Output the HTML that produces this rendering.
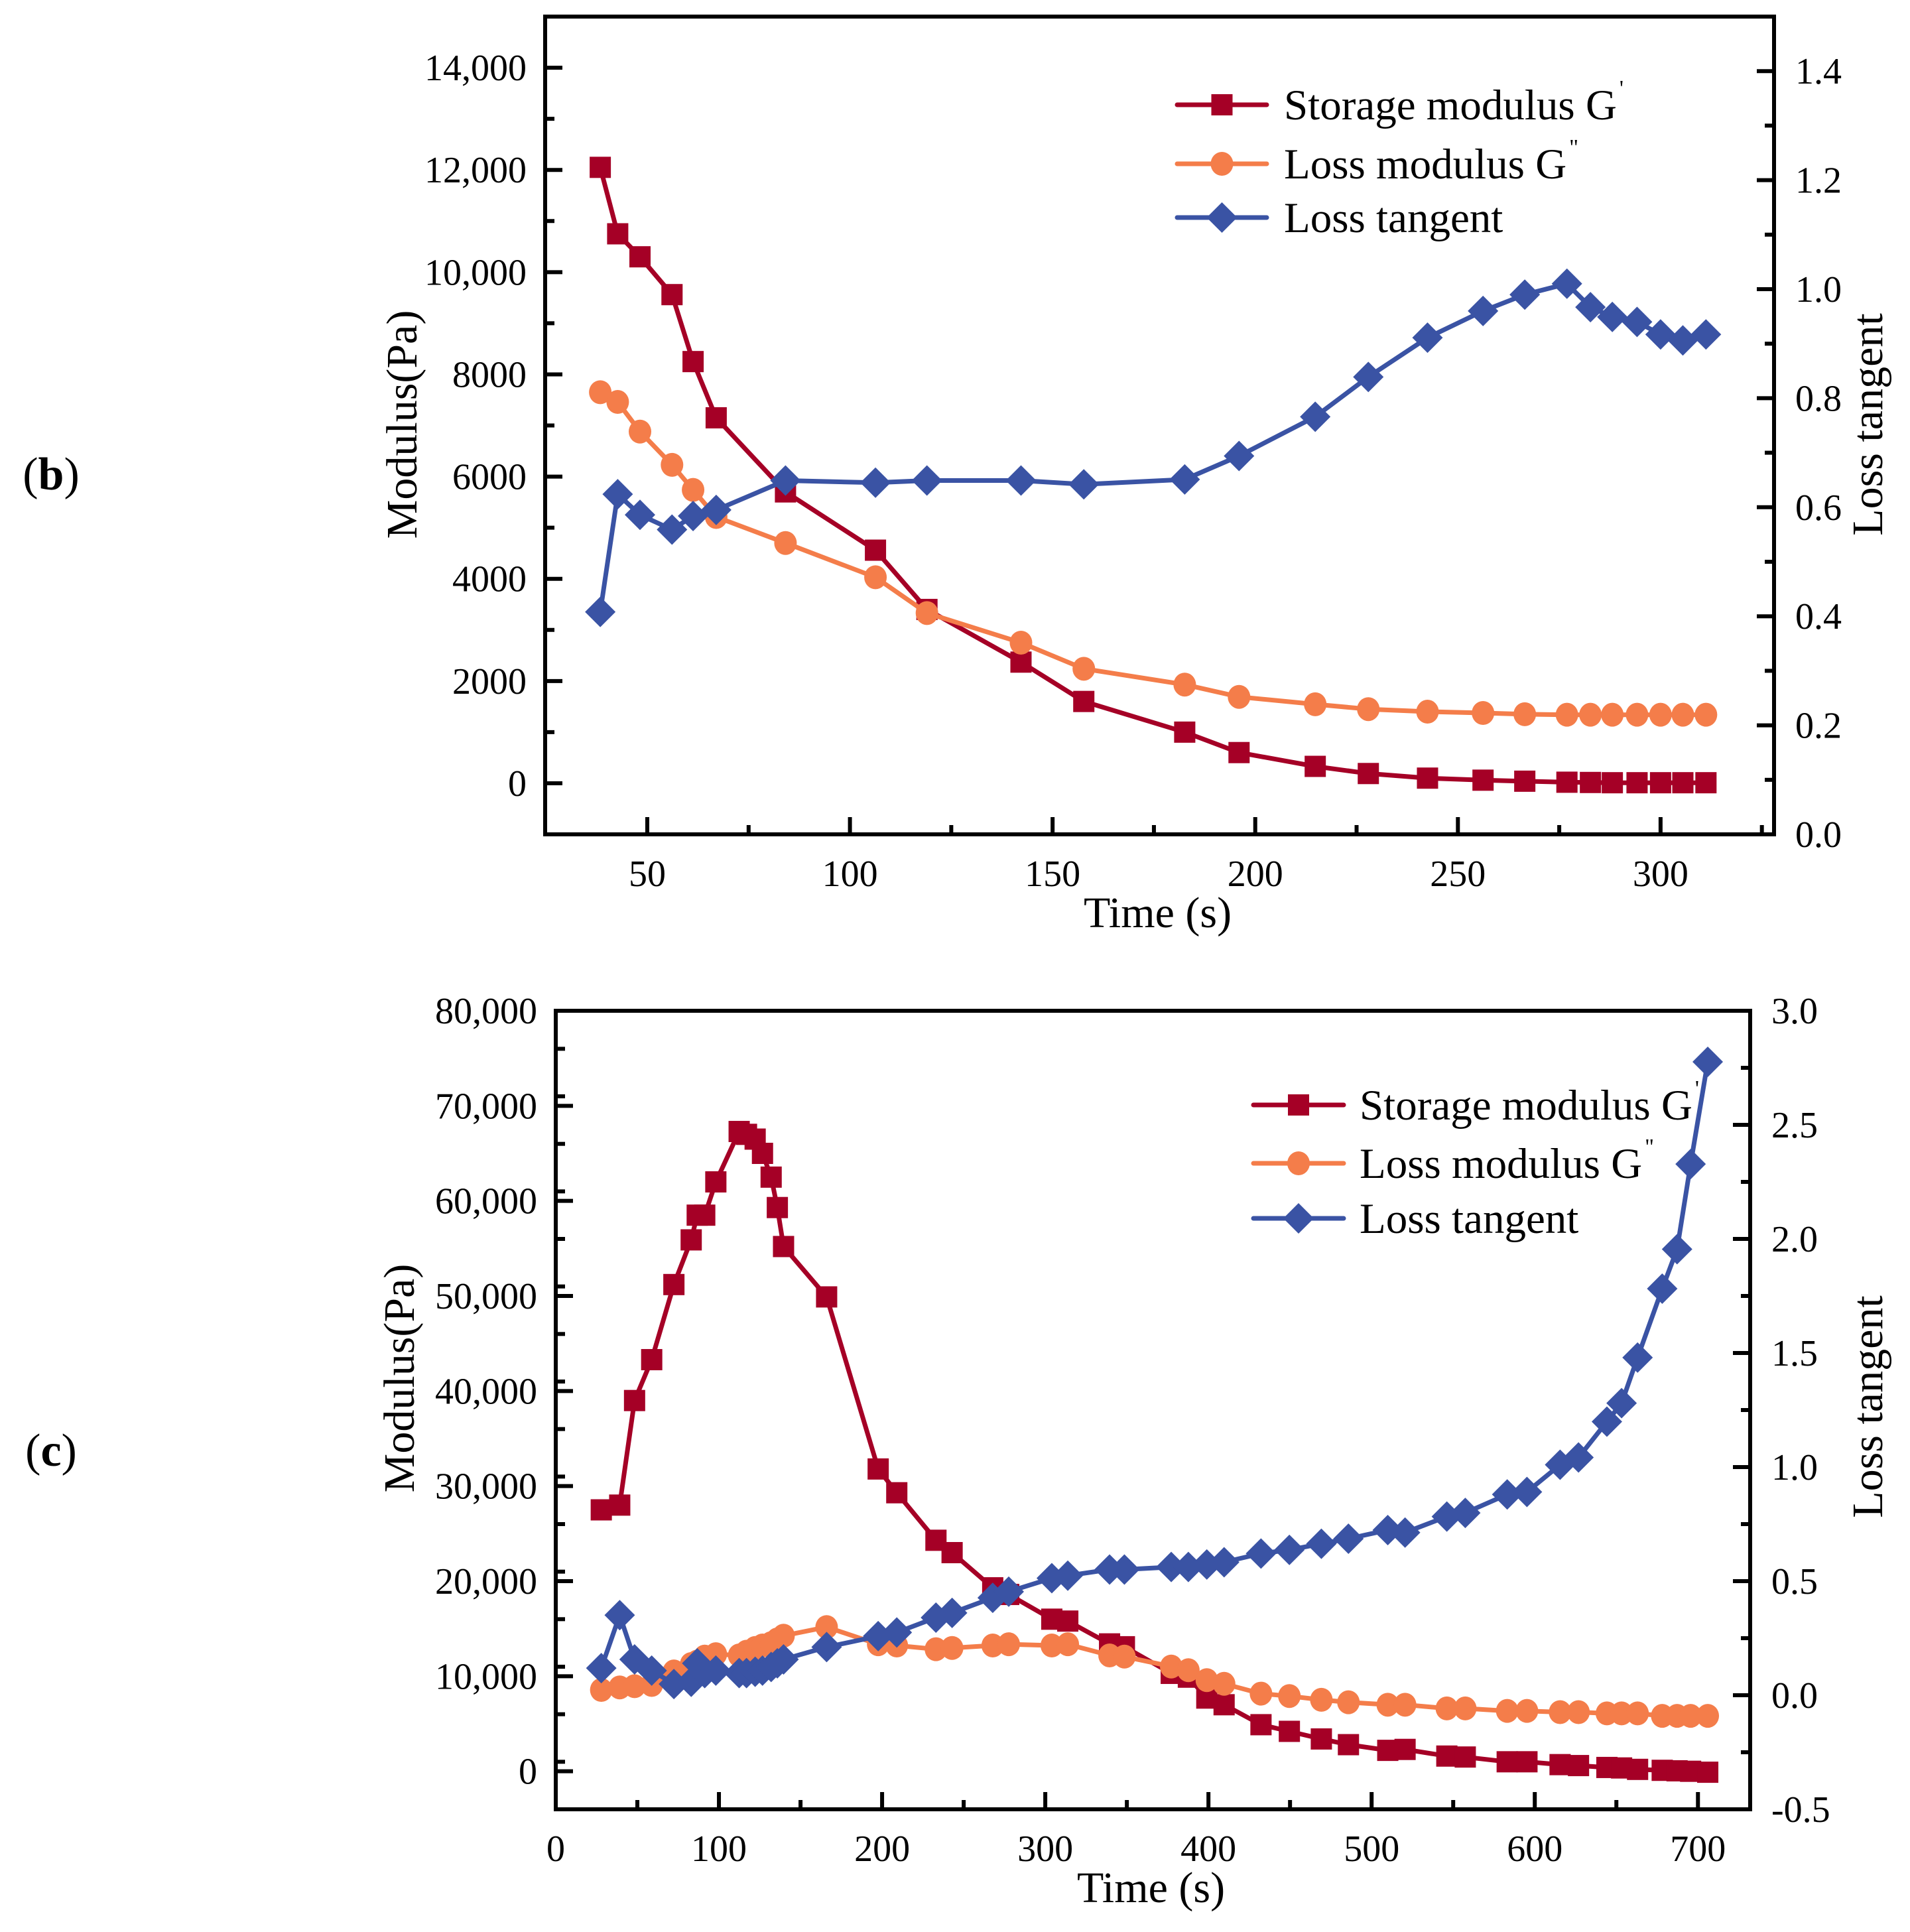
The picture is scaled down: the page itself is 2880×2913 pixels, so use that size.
<!DOCTYPE html>
<html><head><meta charset="utf-8">
<style>
html,body{margin:0;padding:0;background:#fff;}
svg{display:block;font-family:"Liberation Serif","Times New Roman",serif;}
</style></head>
<body>
<svg id="fig" xmlns="http://www.w3.org/2000/svg" width="2880" height="2913" viewBox="0 0 2880 2913">
<rect width="2880" height="2913" fill="#fff"/>
<text x="77" y="738" font-size="70" text-anchor="middle">(<tspan font-weight="bold">b</tspan>)</text>
<text x="77" y="2210" font-size="70" text-anchor="middle">(<tspan font-weight="bold">c</tspan>)</text>
<g id="chartB"></g>
<g id="chartC"></g>
</svg>
<script>
// ---------- Panel (b) data ----------
const bTime = [38.4,42.7,48.2,56.1,61.3,67,84.1,106.3,119,142.2,157.7,182.6,196,214.8,227.9,242.5,256.2,266.5,276.9,282.7,288.1,294.2,300,305.5,311.2];
const bStorage = [12050,10750,10300,9560,8250,7150,5700,4560,3400,2370,1600,1000,600,330,190,100,60,40,20,15,10,10,10,10,10];
const bLoss = [7650,7460,6880,6230,5740,5210,4700,4030,3330,2750,2240,1930,1690,1545,1450,1400,1375,1350,1340,1340,1340,1340,1340,1340,1340];
const bTan = [0.408,0.624,0.586,0.559,0.584,0.595,0.649,0.645,0.649,0.649,0.642,0.651,0.694,0.766,0.839,0.911,0.960,0.990,1.010,0.967,0.949,0.940,0.917,0.906,0.917];
const bLeftTicks = ["0","2000","4000","6000","8000","10,000","12,000","14,000"];
const bRightTicks = ["0.0","0.2","0.4","0.6","0.8","1.0","1.2","1.4"];
const bXTicks = ["50","100","150","200","250","300"];

// ---------- Panel (c) data ----------
const cTime = [27.9,39.2,48.3,58.8,72.4,83,86.7,91.3,98.1,112.4,116.9,122.2,126.7,132,135.8,139.6,166,197.6,209,233,242.9,267.8,277.6,304,313.8,339.4,348.5,377.2,387.7,399,409.6,432.2,449.6,469.2,485.8,509.9,520.5,546.1,557.4,583.1,595.2,615.5,626.8,644.2,653.2,663,678.1,687.2,695.5,706];
const cStorage = [27500,28000,39000,43300,51200,55900,58500,58500,62000,67300,67000,66500,65000,62500,59300,55200,49900,31800,29300,24300,23000,19300,18600,16000,15800,13400,13100,10300,9900,7700,7000,4900,4200,3400,2800,2200,2300,1600,1500,1000,1000,700,600,400,350,200,100,50,0,-100];
const cLoss = [8560,8820,8950,9080,10500,11280,11540,12060,12320,12190,12580,12970,13230,13480,13870,14260,15170,13360,13230,12840,12970,13230,13360,13230,13360,12190,12060,11020,10630,9590,9200,8170,7910,7520,7260,7000,7000,6610,6610,6350,6350,6220,6220,6090,6090,6090,5830,5830,5830,5830];
const cTan = [0.119,0.351,0.157,0.108,0.049,0.059,0.140,0.097,0.108,0.097,0.097,0.103,0.108,0.124,0.140,0.157,0.211,0.259,0.275,0.340,0.361,0.427,0.454,0.513,0.524,0.551,0.551,0.562,0.562,0.573,0.583,0.621,0.637,0.664,0.686,0.724,0.713,0.783,0.799,0.880,0.891,1.010,1.042,1.199,1.280,1.480,1.782,1.955,2.328,2.776];
const cLeftTicks = ["0","10,000","20,000","30,000","40,000","50,000","60,000","70,000","80,000"];
const cRightTicks = ["-0.5","0.0","0.5","1.0","1.5","2.0","2.5","3.0"];
const cXTicks = ["0","100","200","300","400","500","600","700"];

const NS = "http://www.w3.org/2000/svg";
const RED = "#A50026", ORANGE = "#F47D4A", BLUE = "#3A53A4";
function mk(tag, attrs, parent) {
  const e = document.createElementNS(NS, tag);
  for (const k in attrs) e.setAttribute(k, attrs[k]);
  parent.appendChild(e);
  return e;
}
function num(s) { return parseFloat(s.replace(/,/g, "")); }

function drawMarker(g, kind, cx, cy, color) {
  let m;
  if (kind === "square") {
    m = mk("rect", {x: cx - 16, y: cy - 16, width: 32, height: 32, fill: color}, g);
  } else if (kind === "circle") {
    m = mk("ellipse", {cx: cx, cy: cy, rx: 17, ry: 18, fill: color}, g);
  } else {
    m = mk("polygon", {points: `${cx},${cy-23} ${cx+23},${cy} ${cx},${cy+23} ${cx-23},${cy}`, fill: color}, g);
  }
  return m;
}

function buildChart(cfg) {
  const g = document.getElementById(cfg.id);
  const {L, R, T, B} = cfg.box;
  const sx = v => L + (v - cfg.xMin) / (cfg.xMax - cfg.xMin) * (R - L);
  const syL = v => B - (v - cfg.yLMin) / (cfg.yLMax - cfg.yLMin) * (B - T);
  const syR = v => B - (v - cfg.yRMin) / (cfg.yRMax - cfg.yRMin) * (B - T);

  const series = [
    {name: "storage", vals: cfg.storage, sy: syL, color: RED, kind: "square"},
    {name: "loss", vals: cfg.loss, sy: syL, color: ORANGE, kind: "circle"},
    {name: "tangent", vals: cfg.tan, sy: syR, color: BLUE, kind: "diamond"}
  ];
  series.forEach(s => {
    const sg = mk("g", {}, g);
    
    
    const pts = cfg.time.map((t, i) => sx(t).toFixed(1) + "," + s.sy(s.vals[i]).toFixed(1)).join(" ");
    const pl = mk("polyline", {points: pts, fill: "none", stroke: s.color, "stroke-width": 7, "stroke-linejoin": "round"}, sg);
    
    
    cfg.time.forEach((t, i) => {
      const m = drawMarker(sg, s.kind, sx(t), s.sy(s.vals[i]), s.color);
      
      
    });
  });

  const ax = mk("g", {stroke: "#000", "stroke-width": 6, fill: "none"}, g);
  
  
  mk("path", {d: `M${R},${B} L${L},${B} L${L},${T} L${R},${T} L${R},${B}`, "stroke-linecap": "square"}, ax);

  cfg.leftTicks.forEach(lbl => {
    const v = num(lbl), y = syL(v);
    mk("line", {x1: L, y1: y, x2: L + 26, y2: y}, ax);
    const t = mk("text", {x: L - 28, y: y + 19, "font-size": 56, "text-anchor": "end", fill: "#000", stroke: "none"}, g);
    t.textContent = lbl;
    
    
  });
  for (let v = cfg.yLMin + cfg.leftMinorStep; v < cfg.yLMax; v += cfg.leftMinorStep) {
    if (Math.abs(v / cfg.leftMajorStep - Math.round(v / cfg.leftMajorStep)) < 1e-6) continue;
    const y = syL(v);
    mk("line", {x1: L, y1: y, x2: L + 14, y2: y}, ax);
  }
  cfg.rightTicks.forEach(lbl => {
    const v = num(lbl), y = syR(v);
    if (Math.abs(v - cfg.yRMin) > 1e-6 && Math.abs(v - cfg.yRMax) > 1e-6)
      mk("line", {x1: R, y1: y, x2: R - 26, y2: y}, ax);
    const t = mk("text", {x: R + 32, y: y + 19, "font-size": 56, "text-anchor": "start", fill: "#000", stroke: "none"}, g);
    t.textContent = lbl;
    
    
  });
  for (let v = cfg.yRMin + cfg.rightMinorStep; v < cfg.yRMax - 1e-6; v += cfg.rightMinorStep) {
    const r = v / cfg.rightMajorStep;
    if (Math.abs(r - Math.round(r)) < 1e-6) continue;
    const y = syR(v);
    mk("line", {x1: R, y1: y, x2: R - 14, y2: y}, ax);
  }
  cfg.xTicks.forEach(lbl => {
    const v = num(lbl), x = sx(v);
    if (x > L + 3) mk("line", {x1: x, y1: B, x2: x, y2: B - 26}, ax);
    const t = mk("text", {x: x, y: B + 78, "font-size": 56, "text-anchor": "middle", fill: "#000", stroke: "none"}, g);
    t.textContent = lbl;
    
    
  });
  for (let v = cfg.xMinorStart; v < cfg.xMax; v += cfg.xMajorStep) {
    const x = sx(v);
    if (x > L + 3 && x < R - 3) mk("line", {x1: x, y1: B, x2: x, y2: B - 14}, ax);
  }

  let t = mk("text", {x: (L + R) / 2 - 3, y: B + 140, "font-size": 66, "text-anchor": "middle"}, g);
  t.textContent = "Time (s)";
  
  
  t = mk("text", {x: 0, y: 0, "font-size": 66, "text-anchor": "middle", transform: `translate(${cfg.yTitleL.x},${cfg.yTitleL.y}) rotate(-90)`}, g);
  t.textContent = "Modulus(Pa)";
  
  
  t = mk("text", {x: 0, y: 0, "font-size": 66, "text-anchor": "middle", transform: `translate(${cfg.yTitleR.x},${cfg.yTitleR.y}) rotate(-90)`}, g);
  t.textContent = "Loss tangent";
  
  

  const lg = mk("g", {}, g);
  
  
  const labels = [["Storage modulus G", "'"], ["Loss modulus G", "\""], ["Loss tangent", ""]];
  series.forEach((s, i) => {
    const y = cfg.legend.y[i];
    const eg = mk("g", {}, lg);
    
    
    mk("line", {x1: cfg.legend.x1, y1: y, x2: cfg.legend.x2, y2: y, stroke: s.color, "stroke-width": 7, "stroke-linecap": "round"}, eg);
    drawMarker(eg, s.kind, (cfg.legend.x1 + cfg.legend.x2) / 2, y, s.color);
    const tx = mk("text", {x: cfg.legend.tx, y: y + 22, "font-size": 65}, eg);
    tx.textContent = labels[i][0];
    if (labels[i][1]) {
      const sp = mk("tspan", {"font-size": 34, dy: -36, dx: 4}, tx);
      sp.textContent = labels[i][1];
    }
  });
}

buildChart({
  id: "chartB", box: {L: 822, R: 2675, T: 25, B: 1258},
  xMin: 24.8, xMax: 328.0, yLMin: -1000, yLMax: 15000, yRMin: 0, yRMax: 1.5,
  time: bTime, storage: bStorage, loss: bLoss, tan: bTan,
  leftTicks: bLeftTicks, rightTicks: bRightTicks, xTicks: bXTicks,
  leftMinorStep: 1000, leftMajorStep: 2000, rightMinorStep: 0.1, rightMajorStep: 0.2,
  xMinorStart: 75, xMajorStep: 50,
  yTitleL: {x: 628, y: 640}, yTitleR: {x: 2838, y: 640},
  legend: {x1: 1775, x2: 1910, tx: 1936, y: [158, 247, 328]}
});
buildChart({
  id: "chartC", box: {L: 838, R: 2639, T: 1524, B: 2728},
  xMin: 0, xMax: 732, yLMin: -4000, yLMax: 80000, yRMin: -0.5, yRMax: 3.0,
  time: cTime, storage: cStorage, loss: cLoss, tan: cTan,
  leftTicks: cLeftTicks, rightTicks: cRightTicks, xTicks: cXTicks,
  leftMinorStep: 5000, leftMajorStep: 10000, rightMinorStep: 0.25, rightMajorStep: 0.5,
  xMinorStart: 50, xMajorStep: 100,
  yTitleL: {x: 624, y: 2078}, yTitleR: {x: 2838, y: 2121},
  legend: {x1: 1890, x2: 2026, tx: 2050, y: [1666, 1754, 1837]}
});
</script>
</body></html>
